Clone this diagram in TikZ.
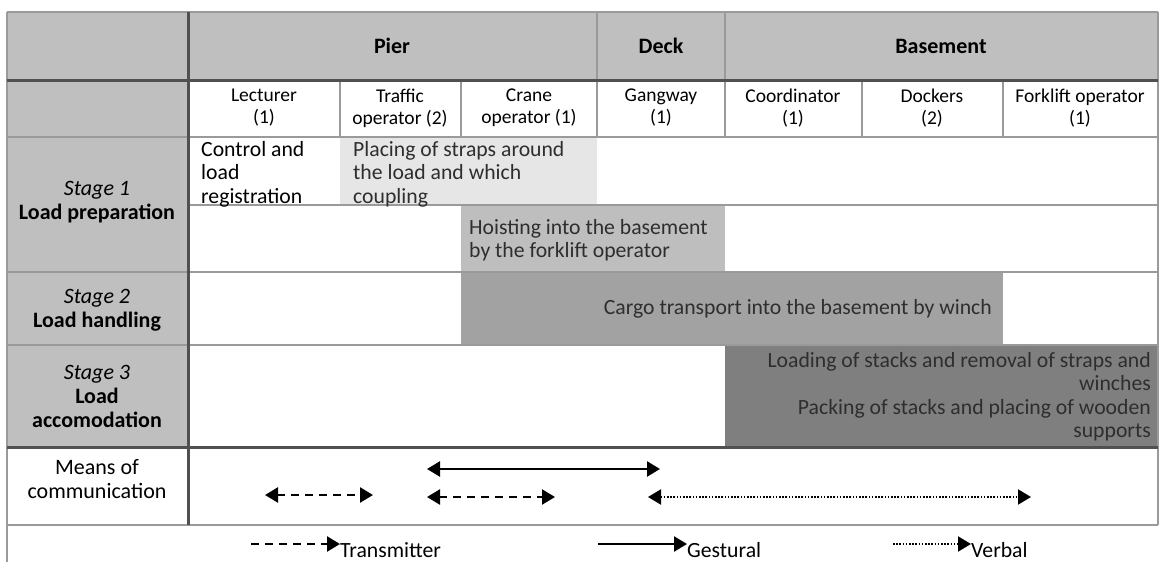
\documentclass[tikz,border=0pt]{standalone}
\usepackage{fontspec}
\setmainfont{Carlito}
\usepackage{xcolor}
\usepackage{tikz}
\usetikzlibrary{arrows.meta}

\definecolor{headgray}{HTML}{BFBFBF}
\definecolor{strapgray}{HTML}{E6E6E6}
\definecolor{hoistgray}{HTML}{BEBEBE}
\definecolor{winchgray}{HTML}{A2A2A2}
\definecolor{stackgray}{HTML}{7F7F7F}
\definecolor{rulegray}{HTML}{9A9A9A}
\definecolor{heavygray}{HTML}{505050}
\definecolor{inkgray}{HTML}{2E2E2E}

\tikzset{
  thinrule/.style={draw=rulegray, line width=1.2pt},
  heavyrule/.style={draw=heavygray, line width=3pt},
  headtxt/.style={font=\fontsize{22}{26}\selectfont\bfseries, inner sep=0pt},
  roletxt/.style={font=\fontsize{19.5}{22}\selectfont, align=center, inner sep=0pt},
  stagetxt/.style={font=\fontsize{22}{24}\selectfont, align=center, inner sep=0pt},
  acttxt/.style={font=\fontsize{21.7}{23.5}\selectfont, inner sep=0pt},
  gestural/.style={line width=2.4pt, {Triangle[length=13pt,width=15pt]}-{Triangle[length=13pt,width=15pt]}},
  transmitter/.style={gestural, dash pattern=on 8pt off 6pt},
  verbal/.style={line width=2pt, dash pattern=on 1.6pt off 1.6pt, {Triangle[length=13pt,width=15pt]}-{Triangle[length=13pt,width=15pt]}},
}

\begin{document}
\begin{tikzpicture}[x=1pt,y=-1pt]
	\useasboundingbox (0,0) rectangle (1160,562);
	\fill[white] (0,0) rectangle (1160,562);

	% shading
	\fill[headgray] (7,12) rectangle (1158,80);
	\fill[headgray] (7,80) rectangle (188,447);
	\fill[strapgray] (340,137) rectangle (597,205);
	\fill[hoistgray] (461,205) rectangle (725,272);
	\fill[winchgray] (461,272) rectangle (1003,345);
	\fill[stackgray] (725,345) rectangle (1158,447);

	% grid
	\draw[thinrule] (7,12) -- (1158,12);
	\draw[thinrule] (7,137) -- (1158,137);
	\draw[thinrule] (188,205) -- (1158,205);
	\draw[thinrule] (7,272) -- (1158,272);
	\draw[thinrule] (7,345) -- (1158,345);
	\draw[thinrule] (7,525) -- (1158,525);
	\draw[thinrule] (7,12) -- (7,562);
	\draw[thinrule] (1158,12) -- (1158,525);
	\draw[thinrule] (597,12) -- (597,80);
	\draw[thinrule] (725,12) -- (725,80);
	\foreach \cx in {340,461,597,725,862,1003}
		\draw[thinrule] (\cx,80) -- (\cx,137);
	\draw[heavyrule] (7,80) -- (1158,80);
	\draw[heavyrule] (7,447) -- (1158,447);
	\draw[heavyrule] (188,12) -- (188,525);

	% places
	\node[headtxt] (pier) at (392,46) {Pier};
	\node[headtxt] (deck) at (661,46) {Deck};
	\node[headtxt] (basement) at (941,46) {Basement};

	% roles
	\node[roletxt] (lecturer) at (264,108) {Lecturer\\(1)};
	\node[roletxt] (traffic) at (400,108) {Traffic\\operator (2)};
	\node[roletxt] (crane) at (529,108) {Crane\\operator (1)};
	\node[roletxt] (gangway) at (661,108) {Gangway\\(1)};
	\node[roletxt] (coordinator) at (793,108) {Coordinator\\(1)};
	\node[roletxt] (dockers) at (932,108) {Dockers\\(2)};
	\node[roletxt] (forklift) at (1080,108) {Forklift operator\\(1)};

	% stages
	\node[stagetxt] (stage1) at (97,202) {\itshape Stage 1\\\bfseries Load preparation};
	\node[stagetxt] (stage2) at (97,310) {\itshape Stage 2\\\bfseries Load handling};
	\node[stagetxt] (stage3) at (97,396) {\itshape Stage 3\\\bfseries Load\\\bfseries accomodation};
	\node[stagetxt] (means) at (97,479) {Means of\\communication};

	% activities
	\node[acttxt, align=left, anchor=north west] (control) at (201,141) {Control and\\load\\registration};
	\node[acttxt, align=left, anchor=north west, text=inkgray] (straps) at (353,141) {Placing of straps around\\the load and which\\coupling};
	\node[acttxt, align=left, anchor=north west, text=inkgray] (hoist) at (469,219) {Hoisting into the basement\\by the forklift operator};
	\node[acttxt, anchor=east, text=inkgray] (winch) at (992,309) {Cargo transport into the basement by winch};
	\node[acttxt, align=right, anchor=north east, text=inkgray] (stacks) at (1151,352) {Loading of stacks and removal of straps and\\winches\\Packing of stacks and placing of wooden\\supports};

	% means of communication
	\coordinate (t1a) at (265,495);
	\coordinate (t1b) at (373,495);
	\coordinate (g1a) at (427,469);
	\coordinate (g1b) at (660,469);
	\coordinate (t2a) at (427,497);
	\coordinate (t2b) at (555,497);
	\coordinate (v1a) at (648,497);
	\coordinate (v1b) at (1031,497);
	\draw[transmitter] (t1a) -- (t1b);
	\draw[gestural] (g1a) -- (g1b);
	\draw[transmitter] (t2a) -- (t2b);
	\draw[verbal] (v1a) -- (v1b);

	% legend
	\node[acttxt, anchor=west] (transleg) at (340,550) {Transmitter};
	\node[acttxt, anchor=west] (gestleg) at (687,550) {Gestural};
	\node[acttxt, anchor=west] (verbleg) at (971,550) {Verbal};
	\coordinate (tl) at (251,544);
	\coordinate (gl) at (598,544);
	\coordinate (vl) at (893,544);
	\draw[line width=2.4pt, dash pattern=on 8pt off 6pt, -{Triangle[length=13pt,width=15pt]}] (tl) -- (transleg.west |- tl);
	\draw[line width=2.4pt, -{Triangle[length=13pt,width=15pt]}] (gl) -- (gestleg.west |- gl);
	\draw[line width=2pt, dash pattern=on 1.6pt off 1.6pt, -{Triangle[length=13pt,width=15pt]}] (vl) -- (verbleg.west |- vl);
\end{tikzpicture}
\end{document}
